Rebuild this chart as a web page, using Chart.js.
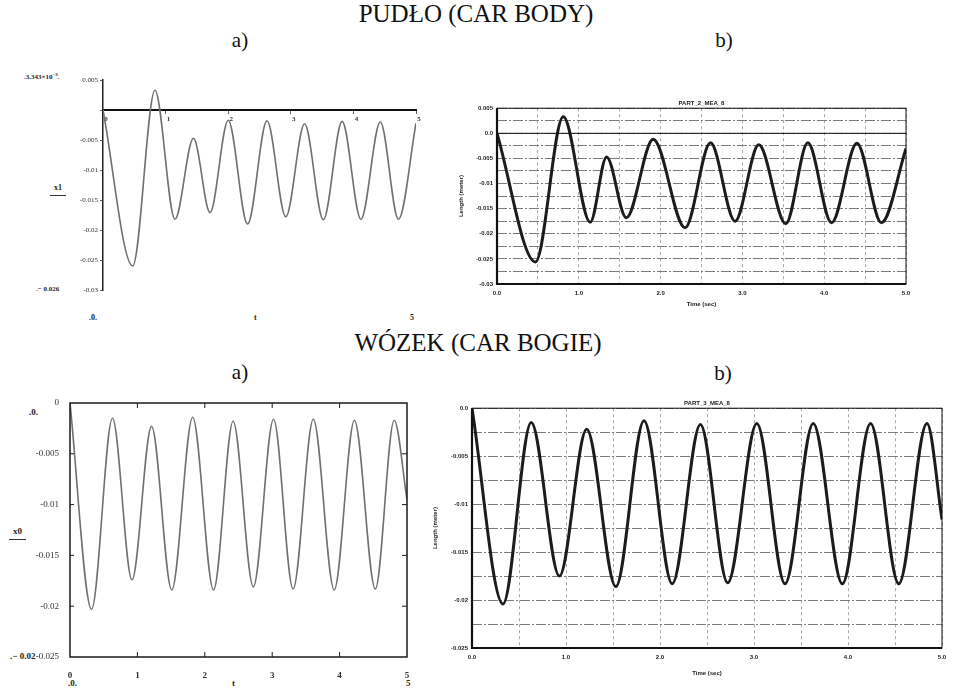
<!DOCTYPE html>
<html>
<head>
<meta charset="utf-8">
<script src="https://cdn.jsdelivr.net/npm/chart.js@4.4.1/dist/chart.umd.min.js"></script>
<style>
  body { margin: 0; background: #fff; width: 961px; height: 692px; position: relative; overflow: hidden; font-family: "Liberation Serif", serif; color: #111; }
  .wrap { position: absolute; }
  .t { position: absolute; white-space: nowrap; line-height: 1; }
  .head { font-size: 25px; transform: translateX(-50%); }
  .sub { font-size: 21px; transform: translateX(-50%); }
  .m { font-size: 8px; color: #222; font-weight: bold; }
  .u { border-bottom: 1px solid #333; padding: 0 4px 3px 4px; }
</style>
</head>
<body>

<div class="t head" style="left:476px; top:1px;">PUDŁO (CAR BODY)</div>
<div class="t sub" style="left:240px; top:30px;">a)</div>
<div class="t sub" style="left:724px; top:30px;">b)</div>
<div class="t head" style="left:478px; top:330px;">WÓZEK (CAR BOGIE)</div>
<div class="t sub" style="left:240px; top:362px;">a)</div>
<div class="t sub" style="left:723px; top:363px;">b)</div>

<!-- Mathcad side labels, car body -->
<div class="t m" style="left:24px; top:72px; font-size:7px;">.3.343×10<sup style="font-size:5px">−3</sup>.</div>
<div class="t m u" style="left:50px; top:184px; font-size:8px;">x1</div>
<div class="t m" style="left:36px; top:286px; font-size:7px;">.− 0.026</div>
<div class="t m" style="left:89px; top:314px;">.0.</div>
<div class="t m" style="left:254px; top:314px;">t</div>
<div class="t m" style="left:410px; top:314px;">5</div>

<!-- Mathcad side labels, car bogie -->
<div class="t m" style="left:29px; top:408px; font-size:9px;">.0.</div>
<div class="t m u" style="left:9px; top:527px; font-size:9px;">x0</div>
<div class="t m" style="left:10px; top:652px; font-size:9px;">.− 0.02</div>
<div class="t m" style="left:68px; top:679px; font-size:9px;">.0.</div>
<div class="t m" style="left:232px; top:679px; font-size:9px;">t</div>
<div class="t m" style="left:406px; top:679px; font-size:9px;">5</div>

<div class="wrap" style="left:0px; top:60px;"><canvas id="pudloA" width="440" height="250"></canvas></div>
<div class="wrap" style="left:458px; top:90px;"><canvas id="pudloB" width="503" height="218"></canvas></div>
<div class="wrap" style="left:0px; top:385px;"><canvas id="wozekA" width="440" height="307"></canvas></div>
<div class="wrap" style="left:432px; top:390px;"><canvas id="wozekB" width="529" height="302"></canvas></div>

<script>
// PUDŁO (car body) - a) Mathcad x1(t)
const pudloTimeA = [0, 0.475, 0.83, 1.15, 1.445, 1.71, 2.0, 2.31, 2.62, 2.92, 3.22, 3.52, 3.82, 4.12, 4.43, 4.72, 5.0];
const pudloX1 = [0, -0.026, 0.0033, -0.0182, -0.0047, -0.0171, -0.0017, -0.019, -0.0018, -0.0178, -0.0023, -0.0183, -0.0019, -0.0182, -0.002, -0.0182, -0.0022];

// PUDŁO (car body) - b) PART_2_MEA_8
const pudloTimeB = [0, 0.47, 0.81, 1.14, 1.34, 1.58, 1.91, 2.30, 2.61, 2.91, 3.20, 3.53, 3.80, 4.09, 4.40, 4.70, 5.0];
const pudloLenB = [0, -0.0256, 0.0033, -0.0177, -0.0047, -0.0168, -0.0012, -0.0188, -0.0019, -0.0175, -0.0023, -0.018, -0.0019, -0.0178, -0.002, -0.0178, -0.003];

// WÓZEK (car bogie) - a) Mathcad x0(t)
const wozekTimeA = [0, 0.32, 0.63, 0.92, 1.21, 1.51, 1.82, 2.13, 2.42, 2.72, 3.02, 3.31, 3.61, 3.92, 4.22, 4.53, 4.81, 5.0];
const wozekX0 = [0, -0.0203, -0.0015, -0.0174, -0.0023, -0.0184, -0.0014, -0.0184, -0.0018, -0.0181, -0.0016, -0.0183, -0.0016, -0.0184, -0.0017, -0.0183, -0.0017, -0.0095];

// WÓZEK (car bogie) - b) PART_3_MEA_8
const wozekTimeB = [0, 0.33, 0.63, 0.93, 1.22, 1.53, 1.83, 2.13, 2.43, 2.72, 3.03, 3.33, 3.63, 3.94, 4.24, 4.54, 4.84, 5.0];
const wozekLenB = [0, -0.0204, -0.0015, -0.0175, -0.0022, -0.0186, -0.0013, -0.0183, -0.0017, -0.0182, -0.0016, -0.0183, -0.0016, -0.0183, -0.0016, -0.0183, -0.0016, -0.0116];

const adamsTitles = ['PART_2_MEA_8', 'PART_3_MEA_8'];
const adamsAxisTitles = ['Time (sec)', 'Length (meter)'];

function toPoints(ts, vs) {
  return ts.map((t, i) => ({ x: t, y: vs[i] }));
}

// tick values come out as 0.005000000000000004 etc., tidy them
function tidy(v) {
  const r = Math.round(v * 10000) / 10000;
  return r === 0 ? 0 : r;
}

// box around the plot area, inward tick marks, optional solid zero line
const framePlugin = {
  id: 'frame',
  afterDatasetsDraw(chart, args, o) {
    const { ctx, chartArea: a, scales } = chart;
    ctx.save();
    ctx.strokeStyle = o.color || '#111';
    ctx.setLineDash([]);
    if (o.zeroLine) {
      const y0 = scales.y.getPixelForValue(0);
      ctx.lineWidth = 1;
      ctx.beginPath(); ctx.moveTo(a.left, y0); ctx.lineTo(a.right, y0); ctx.stroke();
    }
    ctx.lineWidth = o.thin || 1;
    ctx.strokeRect(a.left, a.top, a.right - a.left, a.bottom - a.top);
    if (o.thick) {
      ctx.lineWidth = o.thick;
      ctx.beginPath();
      ctx.moveTo(a.left, a.top); ctx.lineTo(a.left, a.bottom); ctx.lineTo(a.right, a.bottom);
      ctx.stroke();
    }
    if (o.innerTicks) {
      ctx.lineWidth = 1;
      scales.x.ticks.forEach(t => {
        const px = scales.x.getPixelForValue(t.value);
        if (px <= a.left + 1 || px >= a.right - 1) return;
        ctx.beginPath();
        ctx.moveTo(px, a.bottom); ctx.lineTo(px, a.bottom - 5);
        ctx.moveTo(px, a.top); ctx.lineTo(px, a.top + 5);
        ctx.stroke();
      });
      scales.y.ticks.forEach(t => {
        const py = scales.y.getPixelForValue(t.value);
        if (py <= a.top + 1 || py >= a.bottom - 1) return;
        ctx.beginPath();
        ctx.moveTo(a.left, py); ctx.lineTo(a.left + 4, py);
        ctx.moveTo(a.right, py); ctx.lineTo(a.right - 5, py);
        ctx.stroke();
      });
    }
    ctx.restore();
  }
};

const mathcadFont = { family: 'Liberation Serif', size: 7 };
const adamsFont = { family: 'Liberation Sans', size: 6, weight: 'bold' };

function mathcadLine(ts, vs) {
  return {
    data: toPoints(ts, vs),
    borderColor: '#707070',
    borderWidth: 1.6,
    pointRadius: 0,
    cubicInterpolationMode: 'monotone',
    fill: false
  };
}

function adamsLine(ts, vs) {
  return {
    data: toPoints(ts, vs),
    borderColor: '#1c1c1c',
    borderWidth: 3,
    pointRadius: 0,
    cubicInterpolationMode: 'monotone',
    fill: false
  };
}

// a) car body, Mathcad style with x axis through zero
new Chart(document.getElementById('pudloA'), {
  type: 'line',
  data: { datasets: [mathcadLine(pudloTimeA, pudloX1)] },
  options: {
    responsive: false,
    animation: false,
    layout: { padding: { left: 0, top: 20, right: 24, bottom: 20 } },
    plugins: { legend: { display: false }, tooltip: { enabled: false } },
    scales: {
      x: {
        type: 'linear',
        min: 0, max: 5,
        position: { y: 0 },
        border: { display: true, color: '#111', width: 2 },
        grid: { drawOnChartArea: false, drawTicks: true, tickLength: 3, color: '#666' },
        ticks: { stepSize: 1, font: { ...mathcadFont, weight: 'bold' }, color: '#333', padding: 2, autoSkip: false, labelOffset: 3 }
      },
      y: {
        min: -0.03, max: 0.005,
        afterFit: s => { s.width = 103; },
        border: { display: true, color: '#222', width: 1.5 },
        grid: { drawOnChartArea: false, drawTicks: true, tickLength: 3, color: '#666' },
        ticks: {
          stepSize: 0.005,
          font: mathcadFont,
          color: '#333',
          padding: 2,
          callback: v => (tidy(v) === 0 ? '' : String(tidy(v)))
        }
      }
    }
  }
});

// a) car bogie, Mathcad style with boxed frame
new Chart(document.getElementById('wozekA'), {
  type: 'line',
  data: { datasets: [mathcadLine(wozekTimeA, wozekX0)] },
  plugins: [framePlugin],
  options: {
    responsive: false,
    animation: false,
    layout: { padding: { left: 0, top: 18, right: 33, bottom: 0 } },
    plugins: {
      legend: { display: false }, tooltip: { enabled: false },
      frame: { thin: 1.5, color: '#1a1a1a', innerTicks: true }
    },
    scales: {
      x: {
        type: 'linear',
        min: 0, max: 5,
        afterFit: s => { s.height = 35; },
        border: { display: false },
        grid: { display: false },
        ticks: { stepSize: 1, font: { family: 'Liberation Serif', size: 9, weight: 'bold' }, color: '#333', padding: 5 }
      },
      y: {
        min: -0.025, max: 0,
        afterFit: s => { s.width = 70; },
        border: { display: false },
        grid: { display: false },
        ticks: {
          stepSize: 0.005,
          font: { family: 'Liberation Serif', size: 9 },
          color: '#333',
          padding: 3,
          callback: v => String(tidy(v))
        }
      }
    }
  }
});

function adamsChart(id, ts, vs, title, yMin, yMax, pad, xAxisH, yAxisW, zeroLine) {
  return new Chart(document.getElementById(id), {
    type: 'line',
    data: { datasets: [adamsLine(ts, vs)] },
    plugins: [framePlugin],
    options: {
      responsive: false,
      animation: false,
      layout: { padding: pad },
      plugins: {
        legend: { display: false }, tooltip: { enabled: false },
        title: { display: true, text: title, fullSize: false, font: adamsFont, color: '#222', padding: { top: 0, bottom: 1 } },
        frame: { thin: 1, thick: 2.2, color: '#111', zeroLine: zeroLine }
      },
      scales: {
        x: {
          type: 'linear',
          min: 0, max: 5,
          afterFit: s => { s.height = xAxisH; },
          border: { display: false, dash: [3, 3] },
          grid: { color: '#a8a8a8', lineWidth: 1, drawTicks: false },
          title: { display: true, text: adamsAxisTitles[0], font: adamsFont, color: '#222', padding: 0 },
          ticks: {
            stepSize: 0.5,
            font: adamsFont, color: '#222', padding: 6, maxRotation: 0, autoSkip: false,
            callback: v => (Number.isInteger(tidy(v)) ? tidy(v).toFixed(1) : '')
          }
        },
        y: {
          min: yMin, max: yMax,
          afterFit: s => { s.width = yAxisW; },
          border: { display: false, dash: [10, 2, 2, 2] },
          grid: { color: '#7a7a7a', lineWidth: 1, drawTicks: false },
          title: { display: true, text: adamsAxisTitles[1], font: adamsFont, color: '#222', padding: 0 },
          ticks: {
            stepSize: 0.0025,
            font: adamsFont, color: '#222', padding: 4, autoSkip: false,
            callback: v => {
              const r = tidy(v);
              if (Math.round(r * 400) % 2 !== 0) return '';
              return r === 0 ? '0.0' : String(r);
            }
          }
        }
      }
    }
  });
}

adamsChart('pudloB', pudloTimeB, pudloLenB, adamsTitles[0], -0.03, 0.005,
  { left: 0, top: 10, right: 55, bottom: 0 }, 24, 39, true);
adamsChart('wozekB', wozekTimeB, wozekLenB, adamsTitles[1], -0.025, 0,
  { left: 0, top: 10, right: 19, bottom: 15 }, 29, 40, false);
</script>
</body>
</html>
